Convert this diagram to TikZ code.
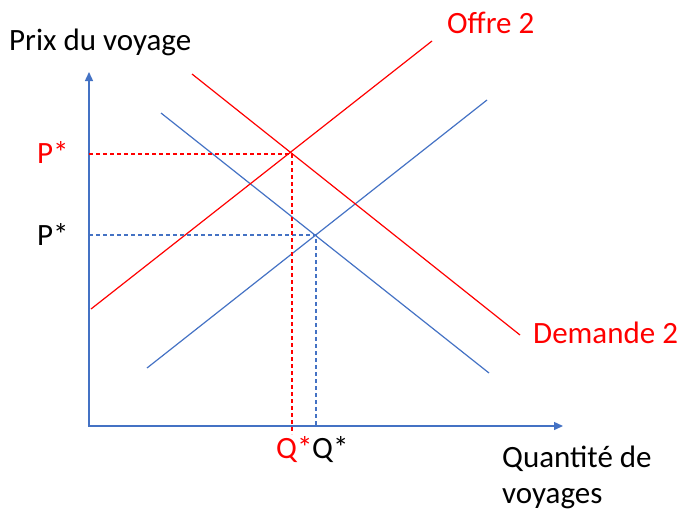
\documentclass[tikz,border=0pt]{standalone}
\usepackage{fontspec}
\setmainfont{Carlito}
\usetikzlibrary{arrows.meta}

\definecolor{offblue}{HTML}{4472C4}
\definecolor{offred}{HTML}{FF0000}

\begin{document}
\begin{tikzpicture}[x=1pt, y=-1pt,
		lbl/.style={font=\fontsize{31}{36}\selectfont, inner sep=0pt},
		axe/.style={offblue, line width=1.4pt, -{Triangle[width=8pt, length=9pt]}},
		courbe/.style={line width=1.2pt},
		repere/.style={line width=1.2pt, dash pattern=on 4pt off 3pt}]
	\useasboundingbox (0, 0) rectangle (679, 512);
	\def\ox{89}
	\def\oy{426}

	% axes
	\draw[axe] (\ox, \oy) -- (\ox, 72);
	\draw[axe] (\ox - 1, \oy) -- (563, \oy);

	% courbes de depart
	\draw[courbe, offblue] (147, 368) -- (487, 100);
	\draw[courbe, offblue] (161, 113) -- (489, 373);
	% courbes deplacees
	\draw[courbe, offred] (91, 309) -- (432, 41);
	\draw[courbe, offred] (192, 74) -- (520, 335);

	\coordinate (E1) at (316, 235);
	\coordinate (E2) at (292, 154);

	% equilibres
	\draw[repere, offblue] (\ox, 235) -- (E1) -- (316, \oy);
	\draw[repere, offred] (\ox, 154) -- (E2) -- (292, 434);

	\node[lbl, anchor=base west] (py) at (9, 50) {Prix du voyage};
	\node[lbl, anchor=base west, offred] (of) at (447, 33) {Offre 2};
	\node[lbl, anchor=base west, offred] (dm) at (533, 343) {Demande 2};
	\node[lbl, anchor=base west, offred] (p2) at (37, 163) {P*};
	\node[lbl, anchor=base west] (p1) at (37, 245) {P*};
	\node[lbl, anchor=base west, offred] (q2) at (276, 458) {Q*};
	\node[lbl, anchor=base west] (q1) at (312, 458) {Q*};
	\node[lbl, anchor=base west, align=left] (qv) at (502, 503) {Quantité de\\voyages};
\end{tikzpicture}
\end{document}
